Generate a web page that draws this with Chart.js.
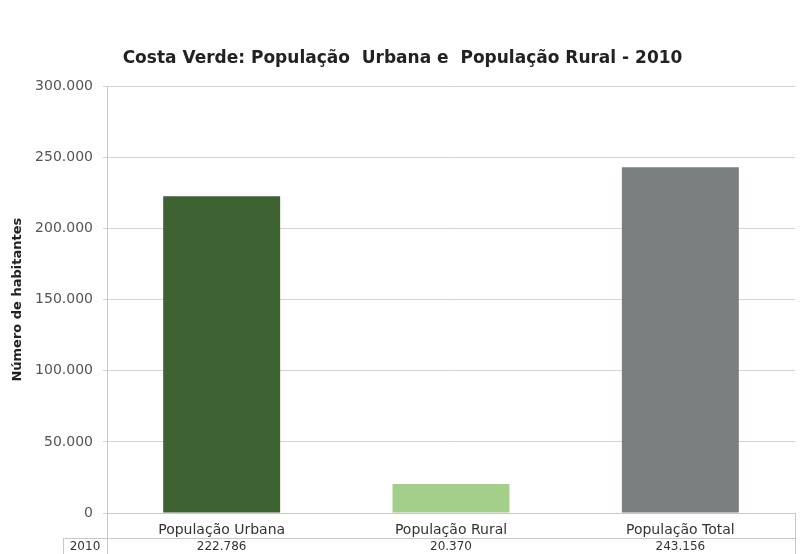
<!DOCTYPE html>
<html>
<head>
<meta charset="utf-8">
<script src="https://cdn.jsdelivr.net/npm/chart.js@4"></script>
<style>
  body { margin: 0; background: #fff; }
  #wrap { width: 803px; height: 554px; }
</style>
</head>
<body>
<div id="wrap"><canvas id="chart"></canvas></div>
<script>
const categories = ["População Urbana", "População Rural", "População Total"];
const values = [222786, 20370, 243156];
const colors = ["#3e6231", "#a3cf8a", "#7a7e7e"];
const rowLabel = "2010";
const yTicks = [0, 50000, 100000, 150000, 200000, 250000, 300000];

const FONT = "'DejaVu Sans', Arial, sans-serif";
const fmt = n => n.toLocaleString("pt-BR");

// data table row under the x axis
const tablePlugin = {
  id: "dataTable",
  afterDraw(chart) {
    const ctx = chart.ctx;
    const area = chart.chartArea;
    const x = chart.scales.x;
    const rowTop = area.bottom + 25;
    const rowBottom = chart.height;
    ctx.save();
    ctx.strokeStyle = "#c8c8c8";
    ctx.lineWidth = 1;
    ctx.beginPath();
    ctx.moveTo(area.left + 0.5, area.bottom);
    ctx.lineTo(area.left + 0.5, rowBottom);
    ctx.moveTo(area.right + 0.5, area.bottom);
    ctx.lineTo(area.right + 0.5, rowBottom);
    ctx.moveTo(63.5, rowTop);
    ctx.lineTo(63.5, rowBottom);
    ctx.moveTo(63, rowTop + 0.5);
    ctx.lineTo(area.right, rowTop + 0.5);
    ctx.stroke();
    ctx.fillStyle = "#333";
    ctx.font = "12px " + FONT;
    ctx.textBaseline = "middle";
    ctx.textAlign = "center";
    ctx.fillText(rowLabel, 85, rowTop + 9);
    values.forEach((v, i) => {
      ctx.fillText(fmt(v), x.getPixelForValue(i), rowTop + 9);
    });
    ctx.restore();
  }
};

new Chart(document.getElementById("chart"), {
  type: "bar",
  data: {
    labels: categories,
    datasets: [{
      data: values,
      backgroundColor: colors,
      barPercentage: 0.51,
      categoryPercentage: 1
    }]
  },
  options: {
    responsive: true,
    maintainAspectRatio: false,
    animation: false,
    layout: { padding: { left: 10, right: 8, top: 0, bottom: 0 } },
    plugins: {
      legend: { display: false },
      tooltip: { enabled: false },
      title: {
        display: true,
        text: "Costa Verde: População  Urbana e  População Rural - 2010",
        color: "#222",
        font: { family: FONT, size: 17, weight: "bold" },
        padding: { top: 48, bottom: 18 }
      }
    },
    scales: {
      x: {
        grid: { display: false },
        border: { color: "#c8c8c8" },
        ticks: {
          color: "#333",
          font: { family: FONT, size: 14 },
          maxRotation: 0,
          padding: 1
        },
        afterFit: s => { s.height = 41; }
      },
      y: {
        min: 0,
        max: 300000,
        afterBuildTicks: s => { s.ticks = yTicks.map(v => ({ value: v })); },
        grid: { color: "#d4d4d4", tickLength: 4 },
        border: { color: "#c8c8c8" },
        ticks: {
          color: "#555",
          font: { family: FONT, size: 14 },
          padding: 10,
          callback: v => fmt(v)
        },
        title: {
          display: true,
          text: "Número de habitantes",
          color: "#222",
          font: { family: FONT, size: 13, weight: "bold" },
          padding: { top: 0, bottom: 0 }
        },
        afterFit: s => { s.width = 97; }
      }
    }
  },
  plugins: [tablePlugin]
});
</script>
</body>
</html>
